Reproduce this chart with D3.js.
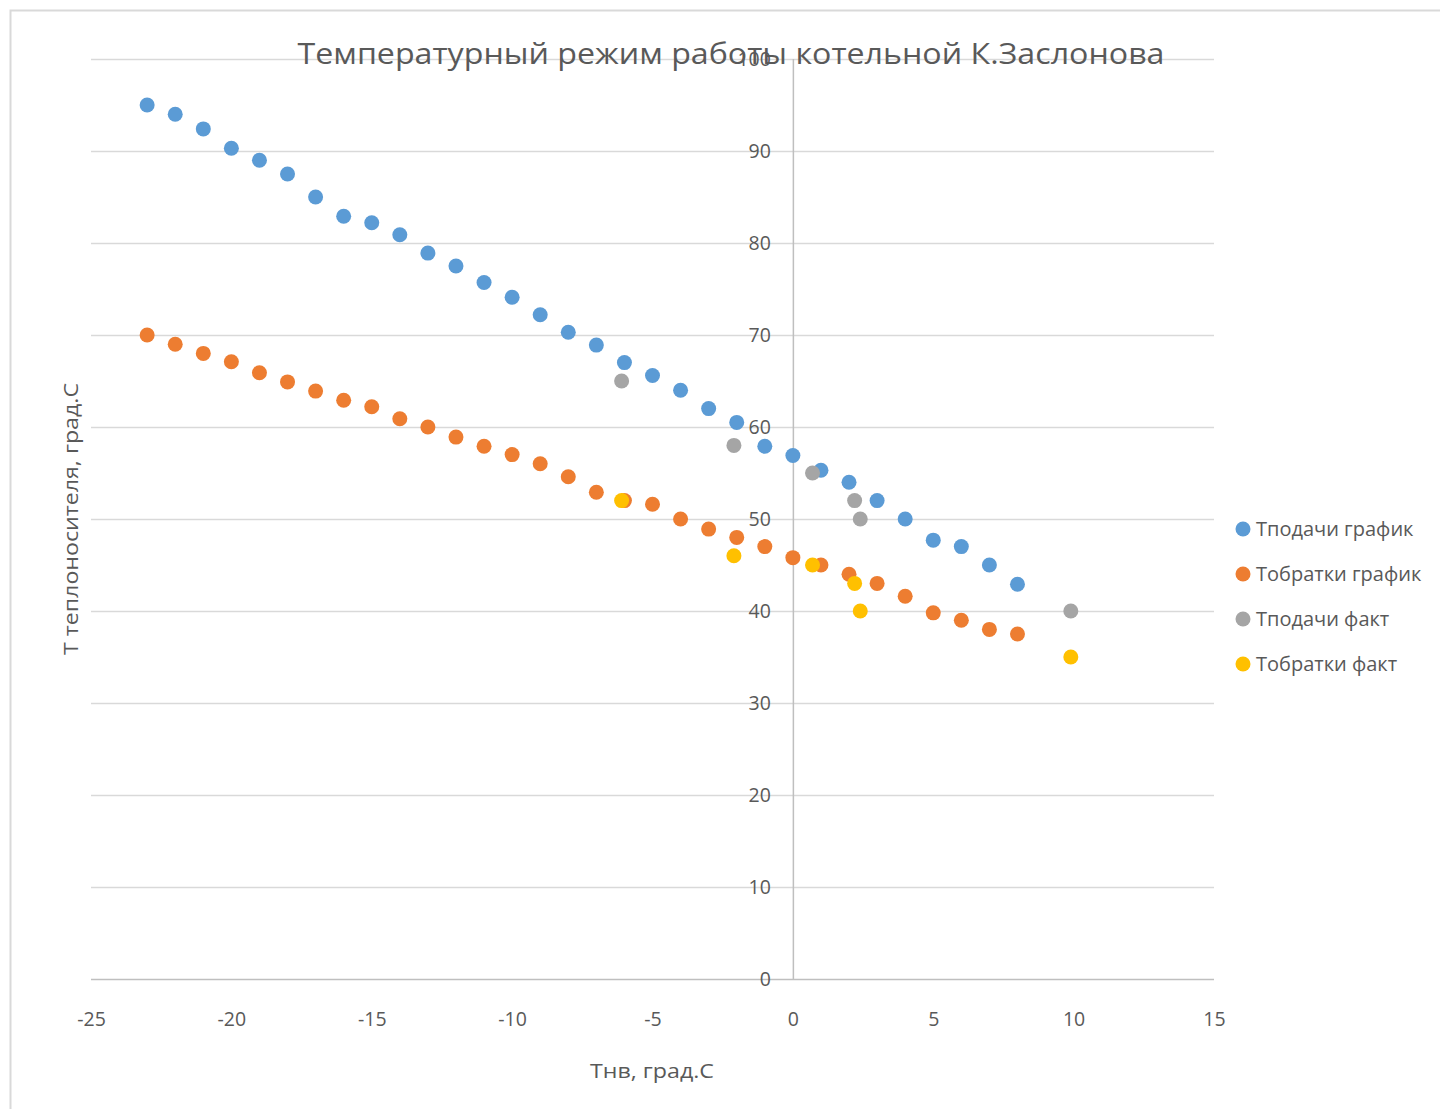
<!DOCTYPE html>
<html><head><meta charset="utf-8">
<script src="https://cdn.jsdelivr.net/npm/d3@7"></script>
<style>
html,body{margin:0;padding:0;background:#fff;}
text{font-family:"Open Sans","Noto Sans",sans-serif;fill:#595959;}
</style></head>
<body><svg id="c" width="1440" height="1109"></svg>
<script>
const title = "Температурный режим работы котельной К.Заслонова";
const xTitle = "Тнв, град.С";
const yTitle = "Т теплоносителя, град.С";
const seriesNames = ["Тподачи график","Тобратки график","Тподачи факт","Тобратки факт"];
const seriesColors = ["#5B9BD5","#ED7D31","#A5A5A5","#FFC000"];
const xTicks = [-25,-20,-15,-10,-5,0,5,10,15];
const yTicks = [0,10,20,30,40,50,60,70,80,90,100];

const grafX = [-23,-22,-21,-20,-19,-18,-17,-16,-15,-14,-13,-12,-11,-10,-9,-8,-7,-6,-5,-4,-3,-2,-1,0,1,2,3,4,5,6,7,8];
const podachiGrafik = [95,94,92.4,90.3,89,87.5,85,82.9,82.2,80.9,78.9,77.5,75.7,74.1,72.2,70.3,68.9,67,65.6,64,62,60.5,57.9,56.9,55.3,54,52,50,47.7,47,45,42.9];
const obratkiGrafik = [70,69,68,67.1,65.9,64.9,63.9,62.9,62.2,60.9,60,58.9,57.9,57,56,54.6,52.9,52,51.6,50,48.9,48,47,45.8,45,44,43,41.6,39.8,39,38,37.5];
const faktX = [-6.1,-2.1,0.7,2.2,2.4,9.9];
const podachiFakt = [65,58,55,52,50,40];
const obratkiFakt = [52,46,45,43,40,35];

const series = [
  {name:seriesNames[0], color:seriesColors[0], xs:grafX, ys:podachiGrafik},
  {name:seriesNames[1], color:seriesColors[1], xs:grafX, ys:obratkiGrafik},
  {name:seriesNames[2], color:seriesColors[2], xs:faktX, ys:podachiFakt},
  {name:seriesNames[3], color:seriesColors[3], xs:faktX, ys:obratkiFakt}
];

const svg = d3.select("#c");
// chart border (top + left visible)
svg.append("path").attr("d","M10.5,1109 V10.5 H1440").attr("fill","none").attr("stroke","#d9d9d9").attr("stroke-width",2);

const x = d3.scaleLinear().domain([-25,15]).range([91,1214]);
const y = d3.scaleLinear().domain([0,100]).range([979,59]);

// gridlines
svg.append("g").selectAll("line").data(yTicks.filter(d=>d!==0)).join("line")
  .attr("x1",x(-25)).attr("x2",x(15)).attr("y1",d=>y(d)+0.5).attr("y2",d=>y(d)+0.5)
  .attr("stroke","#d9d9d9").attr("stroke-width",1.5);
// axes lines
svg.append("line").attr("x1",x(-25)).attr("x2",x(15)).attr("y1",y(0)+0.5).attr("y2",y(0)+0.5).attr("stroke","#bfbfbf").attr("stroke-width",1.5);
svg.append("line").attr("x1",x(0)+0.5).attr("x2",x(0)+0.5).attr("y1",y(0)).attr("y2",y(100)).attr("stroke","#bfbfbf").attr("stroke-width",1.5);

const fmt = d => String(d);
// y tick labels
const yAxis = d3.axisLeft(y).tickValues(yTicks).tickFormat(fmt).tickSize(0).tickPadding(22);
const gy = svg.append("g").attr("transform",`translate(${x(0)},0)`).call(yAxis);
gy.select(".domain").remove();
gy.selectAll("text").style("font-size","19.5px").attr("fill","#595959").attr("font-family",'"Open Sans"');

// x tick labels
const xAxis = d3.axisBottom(x).tickValues(xTicks).tickFormat(fmt).tickSize(0).tickPadding(33);
const gx = svg.append("g").attr("transform",`translate(0,${y(0)})`).call(xAxis);
gx.select(".domain").remove();
gx.selectAll("text").style("font-size","19.5px").attr("fill","#595959").attr("font-family",'"Open Sans"');

// points
series.forEach(s=>{
  svg.append("g").selectAll("circle").data(s.xs.map((v,i)=>[v,s.ys[i]])).join("circle")
    .attr("cx",d=>x(d[0])).attr("cy",d=>y(d[1])).attr("r",7.5).attr("fill",s.color);
});

// title
svg.append("text").attr("x",731).attr("y",64).attr("text-anchor","middle")
  .style("font-size","29px").attr("textLength",867).attr("lengthAdjust","spacingAndGlyphs").text(title);
// axis titles
svg.append("text").attr("x",652).attr("y",1078).attr("text-anchor","middle").style("font-size","20px")
  .attr("textLength",124).attr("lengthAdjust","spacingAndGlyphs").text(xTitle);
svg.append("text").attr("transform","translate(78,519) rotate(-90)").attr("text-anchor","middle").style("font-size","20px")
  .attr("textLength",272).attr("lengthAdjust","spacingAndGlyphs").text(yTitle);

// legend
const lg = svg.append("g");
series.forEach((s,i)=>{
  const cy = 529 + i*45;
  lg.append("circle").attr("cx",1243).attr("cy",cy).attr("r",7.5).attr("fill",s.color);
  lg.append("text").attr("x",1256).attr("y",cy+7).style("font-size","20px").text(s.name);
});
</script></body></html>
